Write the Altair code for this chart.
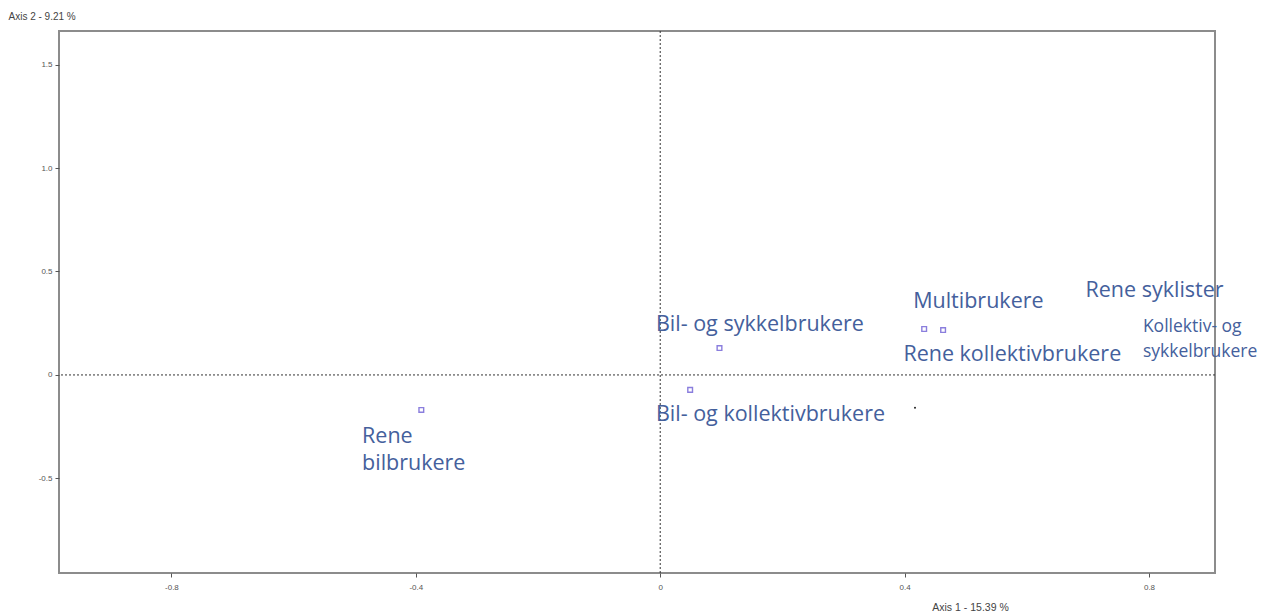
import altair as alt
import pandas as pd

# Points (category coordinates on Axis 1 / Axis 2)
pt_names = ["Rene bilbrukere", "Bil- og sykkelbrukere", "Bil- og kollektivbrukere",
            "Multibrukere", "Rene kollektivbrukere"]
pt_x = [-0.391, 0.097, 0.049, 0.432, 0.463]
pt_y = [-0.169, 0.130, -0.072, 0.222, 0.217]

dot_x = [0.417]
dot_y = [-0.159]

# Text annotations (anchor in data units)
lab_text = ["Rene", "bilbrukere", "Bil- og sykkelbrukere", "Bil- og kollektivbrukere",
            "Multibrukere", "Rene kollektivbrukere", "Rene syklister"]
lab_x = [-0.488, -0.488, -0.007, -0.007, 0.414, 0.398, 0.696]
lab_y = [-0.300, -0.430, 0.242, -0.193, 0.353, 0.097, 0.406]

small_text = ["Kollektiv- og", "sykkelbrukere"]
small_x = [0.790, 0.790]
small_y = [0.232, 0.111]

x_ticks = [-0.8, -0.4, 0, 0.4, 0.8]
y_ticks = [-0.5, 0, 0.5, 1.0, 1.5]
x_domain = [-0.984, 0.908]
y_domain = [-0.957, 1.662]

pts = pd.DataFrame({"name": pt_names, "x": pt_x, "y": pt_y})
dots = pd.DataFrame({"x": dot_x, "y": dot_y})
labs = pd.DataFrame({"t": lab_text, "x": lab_x, "y": lab_y})
smalls = pd.DataFrame({"t": small_text, "x": small_x, "y": small_y})
zero = pd.DataFrame({"v": [0]})

lbl_expr = "datum.value == 0 ? '0' : replace(format(datum.value, '.1f'), '\u2212', '-')"

xs = alt.Scale(domain=x_domain, nice=False, zero=False)
ys = alt.Scale(domain=y_domain, nice=False, zero=False)

x_axis = alt.Axis(values=x_ticks, labelExpr=lbl_expr, title="Axis 1  -  15.39 %",
                  titleAnchor="start", titleAlign="center", titleX=911, titleY=29,
                  titleFontSize=10.5, titleFontWeight="normal", titleColor="#444",
                  labelFontSize=8, labelColor="#555", grid=False, domain=False,
                  tickColor="#555", tickSize=4, labelPadding=6)
y_axis = alt.Axis(values=y_ticks, labelExpr=lbl_expr, title="Axis 2  -  9.21 %",
                  titleAngle=0, titleAlign="left", titleBaseline="middle",
                  titleX=-51, titleY=-15, titleFontSize=10, titleFontWeight="normal",
                  titleColor="#444", labelFontSize=8, labelColor="#555", grid=False,
                  domain=False, tickColor="#555", tickSize=4, labelPadding=3)

base_points = alt.Chart(pts).mark_square(filled=False, size=22, strokeWidth=1.4,
                                         color="#5a48d0").encode(
    x=alt.X("x:Q", scale=xs, axis=x_axis),
    y=alt.Y("y:Q", scale=ys, axis=y_axis),
)

vrule = alt.Chart(zero).mark_rule(color="#333", strokeDash=[2, 2], strokeWidth=1).encode(
    x=alt.X("v:Q", scale=xs))
hrule = alt.Chart(zero).mark_rule(color="#333", strokeDash=[2, 2], strokeWidth=1).encode(
    y=alt.Y("v:Q", scale=ys))

dot_layer = alt.Chart(dots).mark_circle(size=4, color="#222", opacity=1).encode(
    x=alt.X("x:Q", scale=xs), y=alt.Y("y:Q", scale=ys))

text_layer = alt.Chart(labs).mark_text(align="left", baseline="middle", font="Open Sans",
                                       fontSize=21.5, color="#44609c").encode(
    x=alt.X("x:Q", scale=xs), y=alt.Y("y:Q", scale=ys), text="t:N")

small_layer = alt.Chart(smalls).mark_text(align="left", baseline="middle", font="Open Sans",
                                          fontSize=17.5, color="#44609c").encode(
    x=alt.X("x:Q", scale=xs), y=alt.Y("y:Q", scale=ys), text="t:N")

chart = alt.layer(vrule, hrule, base_points, dot_layer, text_layer, small_layer).properties(
    width=1156, height=542,
    autosize=alt.AutoSizeParams(type="none"),
    padding={"left": 59, "top": 31, "right": 54, "bottom": 40},
    background="white",
).configure_view(stroke="#8c8c8c", strokeWidth=2).configure_axis(labelFont="Liberation Sans", titleFont="Liberation Sans")

chart.save("out.html", embed_options={"renderer": "svg", "actions": False})
